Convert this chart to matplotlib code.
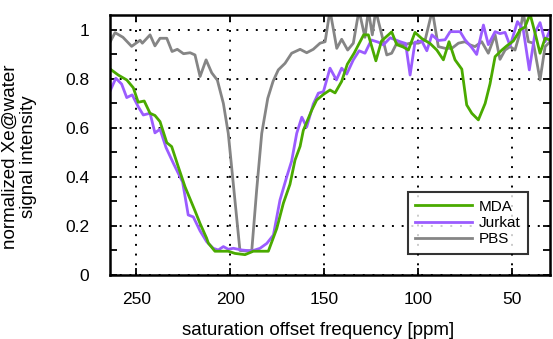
import matplotlib
matplotlib.use("Agg")
import matplotlib.pyplot as plt
from matplotlib.ticker import FixedLocator

plt.rcParams['font.family'] = ['Liberation Sans', 'DejaVu Sans']

# ---- data (ppm, normalized signal) ----
pbs_x = [264.0, 261.3, 257.1, 252.5, 248.0, 246.8, 242.7, 240.1, 237.4, 233.8, 231.0, 228.2,
         224.9, 221.4, 218.8, 216.1, 212.9, 209.9, 206.9, 203.7, 201.1, 194.9, 191.7, 188.6,
         186.0, 183.3, 180.1, 177.3, 174.5, 170.9, 167.4, 162.9, 159.4, 155.9, 152.3, 149.6,
         147.0, 143.4, 140.8, 137.6, 134.6, 131.6, 128.4, 126.6, 124.5, 122.7, 116.8, 114.2,
         111.5, 108.0, 104.4, 100.0, 96.4, 92.6, 89.4, 85.8, 82.2, 78.7, 75.2, 72.5, 69.9,
         66.3, 62.8, 59.2, 56.6, 53.9, 51.2, 48.6, 46.3, 44.2, 41.5, 38.8, 35.3, 32.6, 30.0]
pbs_y = [0.950, 0.989, 0.970, 0.933, 0.958, 0.946, 0.980, 0.935, 0.966, 0.966, 0.912, 0.921,
         0.903, 0.907, 0.898, 0.810, 0.878, 0.825, 0.795, 0.700, 0.578, 0.100, 0.098, 0.100,
         0.347, 0.578, 0.721, 0.790, 0.837, 0.864, 0.905, 0.921, 0.907, 0.921, 0.946, 0.952,
         1.080, 0.925, 0.962, 0.918, 0.946, 1.080, 0.970, 1.080, 0.980, 1.080, 0.898, 0.905,
         0.946, 0.939, 0.946, 0.946, 0.959, 1.080, 0.932, 0.925, 0.925, 0.946, 0.952, 0.939,
         0.932, 0.952, 0.905, 0.980, 0.880, 0.918, 0.932, 0.918, 0.980, 1.070, 0.952, 0.946,
         0.796, 0.932, 0.952]

mda_x = [264.0, 259.6, 255.1, 251.6, 249.0, 245.8, 242.7, 240.1, 237.4, 233.8, 231.2, 227.7,
         224.1, 221.4, 218.8, 216.1, 212.6, 211.7, 208.2, 201.1, 197.5, 192.2, 187.8, 179.8,
         175.3, 171.8, 168.3, 165.6, 162.9, 161.2, 156.7, 154.1, 150.5, 147.0, 144.3, 140.8,
         137.8, 134.2, 129.1, 126.6, 122.6, 119.6, 114.2, 111.5, 108.0, 105.3, 101.8, 98.2,
         93.8, 90.2, 86.7, 83.7, 80.5, 76.9, 74.3, 71.6, 68.1, 64.5, 61.9, 59.2, 55.6, 53.0,
         49.5, 45.9, 43.3, 40.6, 37.9, 35.3, 32.6, 30.0]
mda_y = [0.841, 0.816, 0.796, 0.764, 0.705, 0.710, 0.660, 0.651, 0.626, 0.540, 0.524, 0.442,
         0.360, 0.310, 0.262, 0.210, 0.150, 0.130, 0.097, 0.097, 0.088, 0.083, 0.097, 0.097,
         0.190, 0.293, 0.370, 0.469, 0.525, 0.590, 0.673, 0.714, 0.737, 0.755, 0.743, 0.790,
         0.860, 0.905, 0.980, 0.980, 0.874, 0.955, 0.992, 0.940, 0.930, 0.918, 0.990, 0.965,
         0.945, 0.918, 0.878, 0.952, 0.878, 0.840, 0.694, 0.660, 0.633, 0.700, 0.780, 0.891,
         0.918, 0.935, 0.955, 1.000, 1.012, 1.065, 0.986, 0.905, 0.966, 0.959]

jur_x = [264.0, 260.9, 257.8, 255.1, 252.2, 249.0, 246.3, 242.7, 240.1, 237.4, 234.2, 230.3,
         227.7, 225.4, 222.4, 219.7, 216.1, 212.6, 209.1, 206.4, 203.7, 201.1, 198.4, 193.9,
         188.6, 184.2, 180.6, 177.1, 173.6, 170.0, 167.4, 164.7, 162.0, 159.4, 155.9, 153.2,
         150.5, 147.0, 143.6, 140.8, 138.1, 134.6, 131.5, 128.4, 125.0, 121.3, 118.6, 115.0,
         109.7, 106.8, 104.4, 101.8, 98.2, 95.5, 92.8, 89.4, 85.8, 83.1, 77.8, 75.2, 71.6,
         69.0, 65.4, 62.8, 59.2, 56.6, 53.9, 51.2, 47.3, 44.2, 41.0, 37.9, 35.3, 32.6, 30.0]
jur_y = [0.750, 0.803, 0.779, 0.724, 0.735, 0.687, 0.653, 0.660, 0.580, 0.595, 0.520, 0.456,
         0.415, 0.380, 0.245, 0.237, 0.180, 0.136, 0.109, 0.102, 0.116, 0.105, 0.109, 0.102,
         0.098, 0.109, 0.129, 0.163, 0.306, 0.401, 0.465, 0.578, 0.644, 0.604, 0.697, 0.742,
         0.748, 0.844, 0.796, 0.844, 0.820, 0.878, 0.915, 0.905, 0.959, 0.950, 0.939, 0.968,
         0.952, 0.945, 0.816, 0.950, 0.955, 0.915, 0.980, 0.957, 0.960, 0.993, 0.993, 0.960,
         0.928, 0.900, 1.020, 0.940, 0.993, 0.985, 0.990, 0.935, 1.034, 1.000, 0.837, 0.990,
         1.030, 0.952, 1.000]

series_labels = ["MDA", "Jurkat", "PBS"]
series_colors = ["#4aaa00", "#9b5cff", "#858585"]

x_ticks = [250, 200, 150, 100, 50]
y_ticks = [0, 0.2, 0.4, 0.6, 0.8, 1.0]
y_ticklabels = ["0", "0.2", "0.4", "0.6", "0.8", "1"]

fig = plt.figure(figsize=(5.53, 3.39), dpi=100)
ax = fig.add_axes([110/553, (339-275)/339, 440/553, 260/339])

lw = 2.0
ax.plot(pbs_x, pbs_y, color=series_colors[2], lw=lw, label=series_labels[2], zorder=3)
ax.plot(jur_x, jur_y, color=series_colors[1], lw=lw, label=series_labels[1], zorder=4)
ax.plot(mda_x, mda_y, color=series_colors[0], lw=lw, label=series_labels[0], zorder=5)

ax.set_xlim(264, 30)
ax.set_ylim(0, 1.061)
ax.set_xticks(x_ticks)
ax.set_yticks(y_ticks)
ax.set_yticklabels(y_ticklabels)
ax.yaxis.set_minor_locator(FixedLocator([0.1, 0.3, 0.5, 0.7, 0.9]))

ax.grid(True, which='major', color='black', linestyle=(0, (1, 4)), linewidth=1.4)
ax.set_axisbelow(True)

for s in ax.spines.values():
    s.set_linewidth(1.8)
    s.set_zorder(10)

ax.tick_params(which='both', direction='in', top=True, right=True, width=1.3,
               labelsize=12.5, length=5)
ax.tick_params(axis='x', pad=12)
ax.tick_params(axis='y', pad=15)

ax.set_xlabel("saturation offset frequency [ppm]", fontsize=13.5)
ax.xaxis.set_label_coords(0.473, -0.18)
ax.set_ylabel("normalized Xe@water\nsignal intensity", fontsize=13.5, linespacing=1.1)
ax.yaxis.set_label_coords(-0.166, 0.454)

h, l = ax.get_legend_handles_labels()
order = [2, 1, 0]
leg = ax.legend([h[i] for i in order], [l[i] for i in order],
                loc='lower right', bbox_to_anchor=(0.95, 0.081), fontsize=11,
                frameon=True, fancybox=False, edgecolor='black', handlelength=3.7,
                borderpad=0.5, labelspacing=0.15, handletextpad=0.45, borderaxespad=0)
leg.get_frame().set_linewidth(1.5)
leg.set_zorder(20)

fig.savefig("out.png", dpi=100)
